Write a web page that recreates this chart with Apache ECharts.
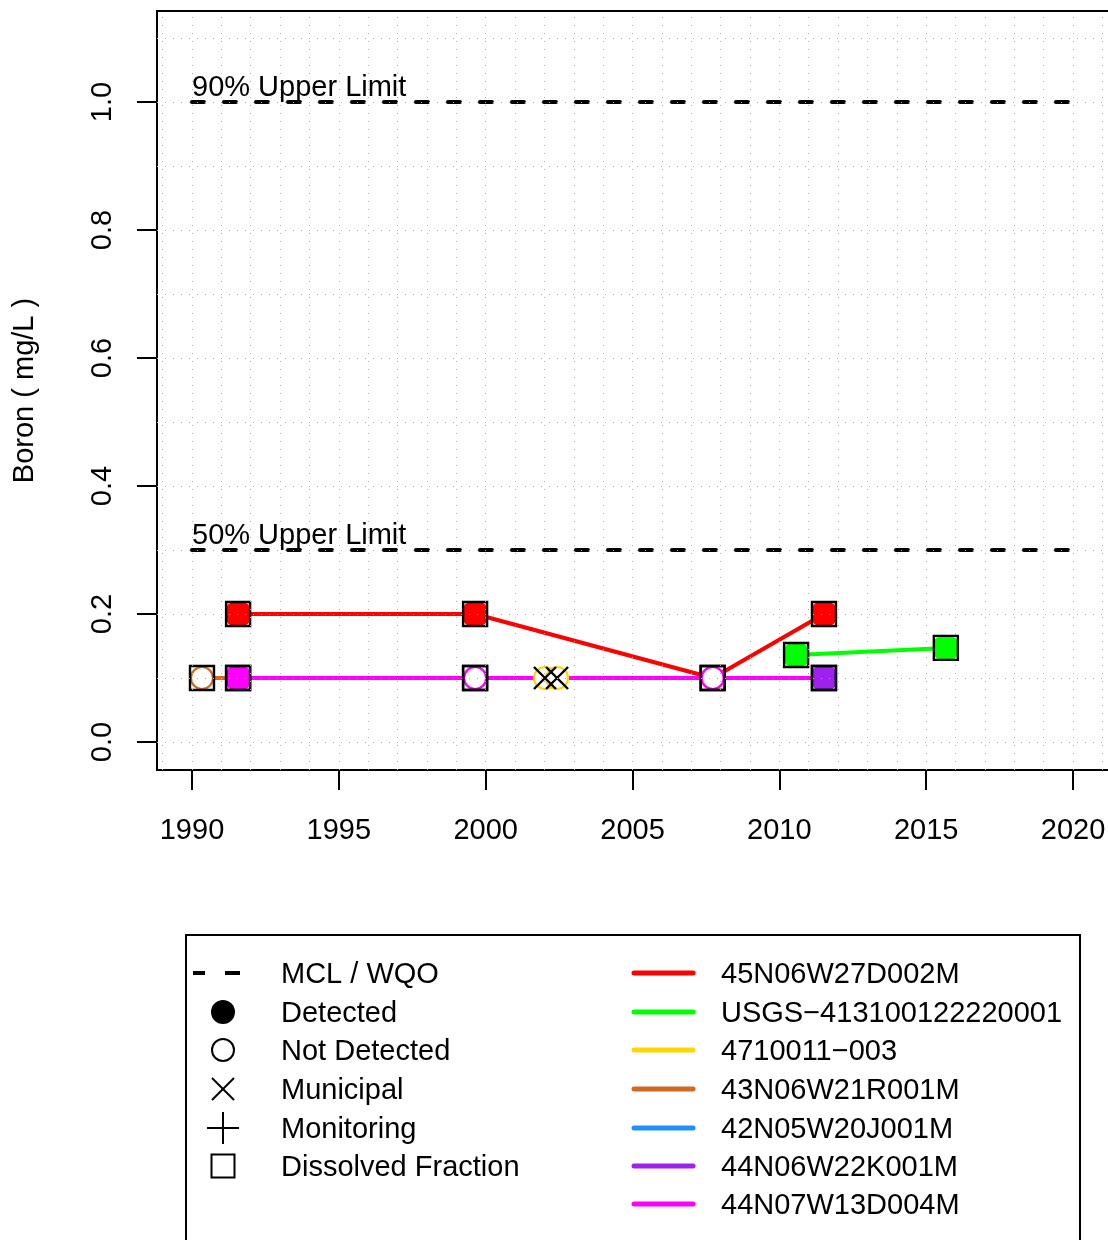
<!DOCTYPE html>
<html>
<head>
<meta charset="utf-8">
<script src="https://cdn.jsdelivr.net/npm/echarts@6/dist/echarts.min.js"></script>
<style>
  html, body { margin: 0; padding: 0; background: #fff; overflow: hidden; }
  /* the plot box runs past the right edge of the picture, so the canvas is wider than the window */
  #chart { width: 1170px; height: 1240px; }
</style>
</head>
<body>
<div id="chart"></div>
<script>
// station names and colours, in legend order
const stationNames = ['45N06W27D002M', 'USGS\u2212413100122220001', '4710011\u2212003', '43N06W21R001M',
  '42N05W20J001M', '44N06W22K001M', '44N07W13D004M']
const stationColors = ['#ff0000', '#00ff00', '#ffd700', '#d2691e', '#1e90ff', '#a020f0', '#ff00ff']

// sample dates (decimal year), values (mg/L) and flags per station
const sampleYears = [
  [1991.57, 1999.64, 2007.73, 2011.52],
  [2010.57, 2015.67],
  [2002.02, 2002.43],
  [1990.34, 1991.57],
  [1999.64],
  [2011.52],
  [1991.57, 1999.64, 2007.73, 2011.52]
]
const sampleValues = [
  [0.2, 0.2, 0.1, 0.2],
  [0.136, 0.147],
  [0.1, 0.1],
  [0.1, 0.1],
  [0.1],
  [0.1],
  [0.1, 0.1, 0.1, 0.1]
]
const detected = [
  [1, 1, 0, 1],
  [1, 1],
  [0, 0],
  [0, 0],
  [0],
  [1],
  [1, 0, 0, 1]
]
const isMunicipal = [false, false, true, false, false, false, false]
const isDissolved = [true, true, false, true, true, true, true]

// limit lines
const limitValues = [1.0, 0.3]
const limitLabels = ['90% Upper Limit', '50% Upper Limit']
const limitFrom = 1990
const limitTo = 2020

// axes
const xTicks = [1990, 1995, 2000, 2005, 2010, 2015, 2020]
const yTicks = [0.0, 0.2, 0.4, 0.6, 0.8, 1.0]
const xGrid = [1989, 1990, 1991, 1992, 1993, 1994, 1995, 1996, 1997, 1998, 1999, 2000, 2001, 2002, 2003, 2004,
  2005, 2006, 2007, 2008, 2009, 2010, 2011, 2012, 2013, 2014, 2015, 2016, 2017, 2018, 2019, 2020, 2021, 2022]
const yGrid = [0.0, 0.1, 0.2, 0.3, 0.4, 0.5, 0.6, 0.7, 0.8, 0.9, 1.0, 1.1]

// symbol legend
const symbolLabels = ['MCL / WQO', 'Detected', 'Not Detected', 'Municipal', 'Monitoring', 'Dissolved Fraction']

const FONT = 'Liberation Sans, Arial, Helvetica, sans-serif'
const FS = 29
const PX_PER_YEAR = 29.367
const chart = echarts.init(document.getElementById('chart'))

let series = []

// lines of each station
stationNames.forEach(function (name, i) {
  series.push({
    type: 'line',
    name: name,
    data: sampleYears[i].map(function (x, j) { return [x, sampleValues[i][j]] }),
    showSymbol: false,
    symbol: 'none',
    lineStyle: { color: stationColors[i], width: 4 },
    z: 2,
    silent: true,
    animation: false
  })
})

// coloured points, purple drawn last so it sits on top of magenta
const pointOrder = [0, 1, 2, 3, 4, 6, 5]
pointOrder.forEach(function (i, k) {
  series.push({
    type: 'scatter',
    data: sampleYears[i].map(function (x, j) {
      let det = detected[i][j]
      return {
        value: [x, sampleValues[i][j]],
        symbol: det ? 'roundRect' : 'circle',
        symbolSize: det ? 23 : 22,
        itemStyle: det
          ? { color: stationColors[i], borderWidth: 0, opacity: 1 }
          : { color: '#fff', borderColor: stationColors[i], borderWidth: 2.2, opacity: 1 }
      }
    }),
    z: 3 + k * 0.01,
    silent: true,
    animation: false
  })
})

// black overlays: square for dissolved fraction, cross for municipal
let overlay = []
stationNames.forEach(function (name, i) {
  sampleYears[i].forEach(function (x, j) {
    if (isDissolved[i]) {
      overlay.push({ value: [x, sampleValues[i][j]], symbol: 'rect', symbolSize: 24 })
    }
    if (isMunicipal[i]) {
      overlay.push({ value: [x, sampleValues[i][j]], symbol: 'path://M0,0L10,10M10,0L0,10', symbolSize: 22 })
    }
  })
})
series.push({
  type: 'scatter',
  data: overlay,
  itemStyle: { color: 'rgba(0,0,0,0)', borderColor: '#000', borderWidth: 2.4, opacity: 1 },
  z: 4,
  silent: true,
  animation: false
})

// limit lines
series.push({
  type: 'line',
  data: [],
  silent: true,
  markLine: {
    silent: true,
    symbol: ['none', 'none'],
    animation: false,
    lineStyle: { color: '#000', width: 4, type: [12, 20], cap: 'round' },
    label: {
      show: true,
      position: 'insideStartTop',
      formatter: '{b}',
      fontSize: FS,
      fontFamily: FONT,
      color: '#000',
      distance: [0, 0]
    },
    data: limitValues.map(function (v, i) {
      return [{ coord: [limitFrom, v], name: limitLabels[i] }, { coord: [limitTo, v] }]
    })
  },
  z: 5
})

// dotted grid, drawn on top like the original
series.push({
  type: 'line',
  data: [],
  silent: true,
  markLine: {
    silent: true,
    symbol: ['none', 'none'],
    animation: false,
    label: { show: false },
    lineStyle: { color: '#b0b0b0', width: 1, type: [1, 7] },
    data: xGrid.map(function (v) { return { xAxis: v } })
      .concat(yGrid.map(function (v) { return { yAxis: v } }))
  },
  z: 10
})

// legend drawn by hand
const rowY = [973, 1012, 1050, 1089, 1128, 1166, 1204]
const textDy = 2
let graphics = [{
  type: 'rect',
  shape: { x: 186, y: 935, width: 894, height: 400 },
  style: { fill: 'none', stroke: '#000', lineWidth: 2 }
}]
symbolLabels.forEach(function (t, i) {
  graphics.push({
    type: 'text', x: 281, y: rowY[i] + textDy,
    style: { text: t, fontSize: FS, fontFamily: FONT, fill: '#000', verticalAlign: 'middle' }
  })
})
stationNames.forEach(function (t, i) {
  graphics.push({
    type: 'line',
    shape: { x1: 634, y1: rowY[i], x2: 693, y2: rowY[i] },
    style: { stroke: stationColors[i], lineWidth: 5, lineCap: 'round' }
  })
  graphics.push({
    type: 'text', x: 721, y: rowY[i] + textDy,
    style: { text: t, fontSize: FS, fontFamily: FONT, fill: '#000', verticalAlign: 'middle' }
  })
})
const sx = 223
const blk = { stroke: '#000', lineWidth: 2 }
graphics.push(
  { type: 'line', shape: { x1: 193, y1: rowY[0], x2: 205, y2: rowY[0] }, style: { stroke: '#000', lineWidth: 4 } },
  { type: 'line', shape: { x1: 225, y1: rowY[0], x2: 240, y2: rowY[0] }, style: { stroke: '#000', lineWidth: 4 } },
  { type: 'circle', shape: { cx: sx, cy: rowY[1], r: 12 }, style: { fill: '#000' } },
  { type: 'circle', shape: { cx: sx, cy: rowY[2], r: 11 }, style: { fill: 'none', stroke: '#000', lineWidth: 2 } },
  { type: 'line', shape: { x1: sx - 11, y1: rowY[3] - 11, x2: sx + 11, y2: rowY[3] + 11 }, style: blk },
  { type: 'line', shape: { x1: sx - 11, y1: rowY[3] + 11, x2: sx + 11, y2: rowY[3] - 11 }, style: blk },
  { type: 'line', shape: { x1: sx - 16, y1: rowY[4], x2: sx + 16, y2: rowY[4] }, style: blk },
  { type: 'line', shape: { x1: sx, y1: rowY[4] - 16, x2: sx, y2: rowY[4] + 16 }, style: blk },
  { type: 'rect', shape: { x: sx - 11.5, y: rowY[5] - 11.5, width: 23, height: 23 }, style: { fill: 'none', stroke: '#000', lineWidth: 2 } }
)

chart.setOption({
  animation: false,
  textStyle: { fontFamily: FONT },
  grid: {
    left: 157, top: 11, width: 1000, height: 759,
    show: true, borderColor: '#000', borderWidth: 2, backgroundColor: 'transparent'
  },
  xAxis: {
    type: 'value',
    min: 1990 - 35 / PX_PER_YEAR,
    max: 1990 - 35 / PX_PER_YEAR + 1000 / PX_PER_YEAR,
    splitLine: { show: false },
    axisLine: { show: true, onZero: false, lineStyle: { color: '#000', width: 2 } },
    axisTick: { show: true, length: 20, inside: false, customValues: xTicks, lineStyle: { color: '#000', width: 2 } },
    axisLabel: {
      customValues: xTicks, fontSize: FS, color: '#000', margin: 46, fontFamily: FONT,
      formatter: function (v) { return String(Math.round(v)) }
    }
  },
  yAxis: {
    type: 'value',
    min: -28 / 640,
    max: 731 / 640,
    name: 'Boron ( mg/L )',
    nameLocation: 'middle',
    nameRotate: 90,
    nameGap: 118,
    nameTextStyle: { fontSize: FS, color: '#000', fontFamily: FONT },
    splitLine: { show: false },
    axisLine: { show: true, onZero: false, lineStyle: { color: '#000', width: 2 } },
    axisTick: { show: true, length: 20, inside: false, customValues: yTicks, lineStyle: { color: '#000', width: 2 } },
    axisLabel: {
      customValues: yTicks, fontSize: FS, color: '#000', margin: 40, rotate: 90, fontFamily: FONT,
      formatter: function (v) { return v.toFixed(1) }
    }
  },
  series: series,
  graphic: graphics
})
</script>
</body>
</html>
